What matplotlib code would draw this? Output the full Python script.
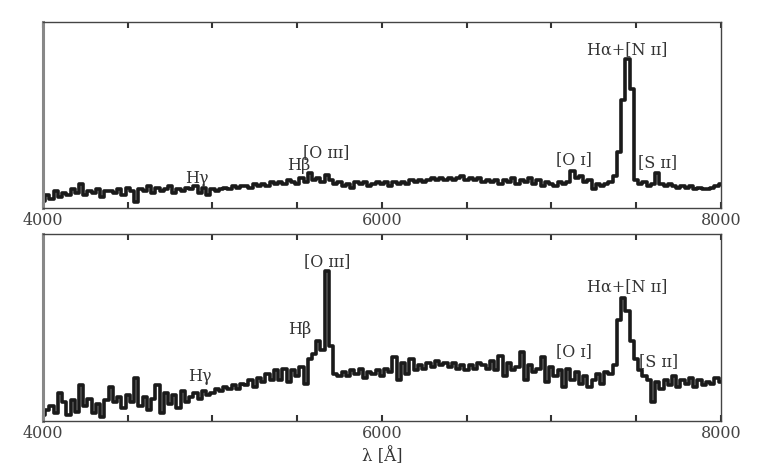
import matplotlib.pyplot as plt
import numpy as np

# longitudes de onda (bins de 25 A)
wave = np.arange(4000, 8001, 25)

# espectro superior (flujo en fraccion del alto del panel)
flux_top = [
    0.04, 0.07, 0.05, 0.09, 0.06, 0.08, 0.07, 0.10,
    0.08, 0.13, 0.07, 0.09, 0.08, 0.10, 0.06, 0.09,
    0.09, 0.08, 0.10, 0.07, 0.11, 0.09, 0.03, 0.10,
    0.09, 0.12, 0.08, 0.11, 0.09, 0.10, 0.12, 0.08,
    0.10, 0.09, 0.11, 0.10, 0.12, 0.08, 0.11, 0.07,
    0.10, 0.09, 0.10, 0.11, 0.10, 0.12, 0.11, 0.12,
    0.12, 0.11, 0.13, 0.12, 0.13, 0.12, 0.14, 0.13,
    0.14, 0.13, 0.15, 0.14, 0.13, 0.16, 0.14, 0.19,
    0.15, 0.16, 0.14, 0.18, 0.15, 0.13, 0.14, 0.12,
    0.13, 0.11, 0.14, 0.13, 0.14, 0.12, 0.13, 0.14,
    0.13, 0.14, 0.12, 0.14, 0.13, 0.14, 0.13, 0.15,
    0.14, 0.15, 0.14, 0.15, 0.16, 0.15, 0.16, 0.15,
    0.16, 0.15, 0.16, 0.17, 0.15, 0.16, 0.15, 0.16,
    0.14, 0.15, 0.14, 0.15, 0.13, 0.15, 0.14, 0.16,
    0.13, 0.15, 0.14, 0.16, 0.13, 0.15, 0.12, 0.14,
    0.13, 0.12, 0.14, 0.13, 0.14, 0.20, 0.16, 0.17,
    0.14, 0.15, 0.10, 0.13, 0.12, 0.13, 0.14, 0.17,
    0.30, 0.58, 0.80, 0.64, 0.15, 0.13, 0.14, 0.12,
    0.13, 0.19, 0.13, 0.12, 0.13, 0.12, 0.11, 0.12,
    0.11, 0.12, 0.10, 0.11, 0.10, 0.10, 0.11, 0.12,
    0.13,
]

# espectro inferior
flux_bot = [
    0.03, 0.06, 0.08, 0.04, 0.15, 0.10, 0.03, 0.11,
    0.05, 0.19, 0.08, 0.12, 0.04, 0.09, 0.02, 0.11,
    0.18, 0.10, 0.13, 0.07, 0.14, 0.10, 0.23, 0.08,
    0.13, 0.06, 0.12, 0.19, 0.04, 0.15, 0.09, 0.14,
    0.07, 0.16, 0.10, 0.13, 0.15, 0.12, 0.16, 0.14,
    0.15, 0.17, 0.16, 0.18, 0.17, 0.19, 0.17, 0.20,
    0.19, 0.22, 0.18, 0.23, 0.21, 0.25, 0.22, 0.27,
    0.22, 0.28, 0.21, 0.27, 0.24, 0.29, 0.20, 0.33,
    0.36, 0.43, 0.38, 0.80, 0.40, 0.25, 0.24, 0.26,
    0.24, 0.27, 0.25, 0.28, 0.23, 0.26, 0.25, 0.27,
    0.24, 0.28, 0.26, 0.34, 0.22, 0.31, 0.25, 0.33,
    0.27, 0.30, 0.28, 0.31, 0.29, 0.32, 0.30, 0.31,
    0.29, 0.31, 0.28, 0.30, 0.27, 0.30, 0.28, 0.31,
    0.30, 0.28, 0.32, 0.27, 0.35, 0.24, 0.31, 0.27,
    0.29, 0.37, 0.22, 0.30, 0.26, 0.28, 0.34, 0.21,
    0.29, 0.24, 0.27, 0.18, 0.28, 0.22, 0.26, 0.20,
    0.24, 0.18, 0.22, 0.25, 0.20, 0.26, 0.25, 0.30,
    0.54, 0.66, 0.59, 0.43, 0.33, 0.27, 0.24, 0.22,
    0.10, 0.21, 0.17, 0.22, 0.19, 0.24, 0.18, 0.22,
    0.20, 0.23, 0.18, 0.22, 0.19, 0.21, 0.20, 0.23,
    0.21,
]

# etiquetas de lineas: (texto, lambda, altura)
labels_top = [
    ("H\u03b3", 4910, 0.16),
    ("H\u03b2", 5510, 0.226),
    ("[O \u026a\u026a\u026a]", 5670, 0.30),
    ("[O \u026a]", 7135, 0.263),
    ("H\u03b1+[N \u026a\u026a]", 7447, 0.85),
    ("[S \u026a\u026a]", 7630, 0.242),
]
labels_bot = [
    ("H\u03b3", 4927, 0.24),
    ("H\u03b2", 5517, 0.487),
    ("[O \u026a\u026a\u026a]", 5677, 0.85),
    ("[O \u026a]", 7135, 0.37),
    ("H\u03b1+[N \u026a\u026a]", 7447, 0.717),
    ("[S \u026a\u026a]", 7635, 0.315),
]

plt.rcParams['font.family'] = ['DejaVu Serif', 'Liberation Serif']

fig = plt.figure(figsize=(7.71, 4.70), dpi=100)
ax1 = fig.add_axes([0.0558, 0.5574, 0.879, 0.3957])
ax2 = fig.add_axes([0.0558, 0.1043, 0.879, 0.398])

for ax, flux, labs in [(ax1, flux_top, labels_top), (ax2, flux_bot, labels_bot)]:
    ax.plot(wave, flux, drawstyle='steps-mid', color='#1a1a1a', lw=2.6)
    ax.set_xlim(4000, 8000)
    ax.set_ylim(0, 1)
    ax.set_yticks([])
    ax.set_xticks([4000, 6000, 8000])
    ax.set_xticks(np.arange(4000, 8001, 500), minor=True)
    ax.tick_params(axis='x', which='both', direction='in', top=True, length=4,
                   width=1.5, color='#333333', labelsize=11.5, pad=3,
                   labelcolor='#444444')
    for s in ['top', 'bottom', 'right']:
        ax.spines[s].set_color('#444444')
        ax.spines[s].set_linewidth(1)
    ax.spines['left'].set_color('#888888')
    ax.spines['left'].set_linewidth(2.2)
    for txt, x, y in labs:
        ax.text(x, y, txt, ha='center', va='center', fontsize=11.5, color='#333333')

ax2.set_xlabel("\u03bb [\u00c5]", fontsize=12, color='#333333', labelpad=4)

fig.savefig("out.png", dpi=100)
